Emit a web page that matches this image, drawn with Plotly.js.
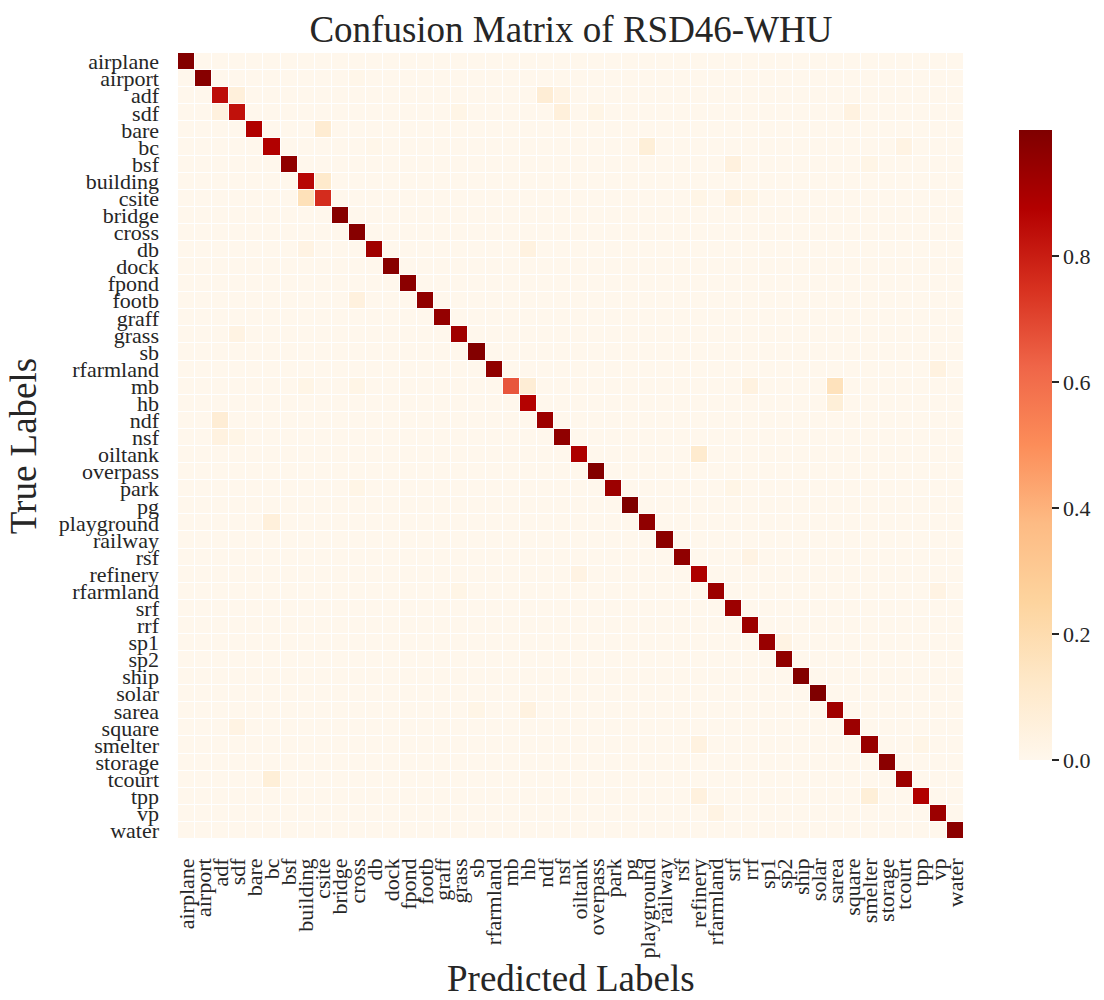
<!DOCTYPE html>
<html>
<head>
<meta charset="utf-8">
<script src="https://cdn.plot.ly/plotly-3.0.1.min.js"></script>
<style>html,body{margin:0;padding:0;background:#fff;}#chart{width:1104px;height:1000px;}</style>
</head>
<body>
<div id="chart"></div>
<script>
// Class labels (same order for true and predicted)
const labels = ['airplane','airport','adf','sdf','bare','bc','bsf','building','csite','bridge','cross','db','dock','fpond','footb','graff','grass','sb','rfarmland','mb','hb','ndf','nsf','oiltank','overpass','park','pg','playground','railway','rsf','refinery','rfarmland','srf','rrf','sp1','sp2','ship','solar','sarea','square','smelter','storage','tcourt','tpp','vp','water'];

// Diagonal (per-class recall)
const diagonal = [0.99,0.98,0.84,0.83,0.88,0.88,0.96,0.86,0.76,0.98,0.98,0.92,0.98,0.97,0.96,0.95,0.92,0.99,0.96,0.66,0.87,0.93,0.96,0.89,0.99,0.93,1.0,0.96,0.97,0.96,0.89,0.93,0.93,0.93,0.94,0.96,0.99,1.0,0.92,0.93,0.94,0.97,0.93,0.88,0.93,0.97];

// Visible off-diagonal confusions: [trueIndex, predictedIndex, value]
const offDiagonal = [
  [1,10,0.01],
  [2,3,0.06],[2,21,0.08],[2,22,0.03],
  [3,2,0.05],[3,16,0.02],[3,22,0.06],[3,24,0.02],[3,39,0.04],
  [4,8,0.09],
  [5,11,0.01],[5,27,0.07],[5,42,0.03],
  [6,32,0.05],[6,40,0.02],
  [7,8,0.11],
  [8,7,0.17],[8,30,0.02],[8,32,0.04],[8,33,0.02],
  [11,7,0.03],[11,20,0.04],
  [14,10,0.05],
  [16,3,0.03],
  [18,44,0.04],
  [19,7,0.02],[19,10,0.02],[19,20,0.08],[19,33,0.04],[19,38,0.16],
  [20,38,0.07],
  [21,2,0.08],
  [22,2,0.04],[22,3,0.02],
  [23,30,0.10],
  [25,10,0.02],[25,32,0.02],
  [27,5,0.06],
  [29,33,0.03],
  [30,23,0.03],
  [31,16,0.02],[31,44,0.03],
  [34,35,0.03],
  [38,17,0.02],[38,20,0.04],
  [39,3,0.03],
  [40,30,0.04],[40,43,0.02],
  [42,5,0.07],
  [43,30,0.05],[43,40,0.07],
  [44,31,0.03]
];

const n = labels.length;
const idx = labels.map((_, i) => i);
const z = idx.map(r => idx.map(c => (r === c ? diagonal[r] : 0)));
offDiagonal.forEach(([r, c, v]) => { z[r][c] = v; });

const orrd = [[0,'#fff7ec'],[0.125,'#fee8c8'],[0.25,'#fdd49e'],[0.375,'#fdbb84'],[0.5,'#fc8d59'],[0.625,'#ef6548'],[0.75,'#d7301f'],[0.875,'#b30000'],[1,'#7f0000']];

const font = 'Liberation Serif, Times New Roman, serif';
const txt = '#262626';

const trace = {
  type: 'heatmap',
  x: idx, y: idx, z: z,
  colorscale: orrd, zmin: 0, zmax: 1.0,
  xgap: 1, ygap: 1,
  colorbar: {
    xref: 'container', x: 1019 / 1104, xanchor: 'left', xpad: 0,
    yref: 'paper', y: 1 - (445 - 53) / 786, yanchor: 'middle', ypad: 0,
    len: 630, lenmode: 'pixels',
    thickness: 33, outlinewidth: 0,
    tickmode: 'array', tickvals: [0,0.2,0.4,0.6,0.8], ticktext: ['0.0','0.2','0.4','0.6','0.8'],
    ticks: 'outside', ticklen: 7, tickwidth: 1.8, tickcolor: txt,
    tickfont: {family: font, size: 22, color: txt}
  },
  hovertemplate: 'True: %{y}<br>Pred: %{x}<br>%{z}<extra></extra>'
};

const layout = {
  width: 1104, height: 1000,
  margin: {l: 178, r: 140, t: 53, b: 161},
  paper_bgcolor: '#fff', plot_bgcolor: '#fff',
  font: {family: font, color: txt},
  title: {text: 'Confusion Matrix of RSD46-WHU', font: {family: font, size: 37, color: txt}, x: 0.5, xref: 'paper', xanchor: 'center', y: 0.971, yref: 'container', yanchor: 'middle'},
  xaxis: {
    tickmode: 'array', tickvals: idx, ticktext: labels, tickangle: -90,
    tickfont: {family: font, size: 22, color: txt},
    ticks: '', ticklabelstandoff: 14, showgrid: false, zeroline: false, showline: false,
    range: [-0.5, n - 0.5],
    automargin: false
  },
  yaxis: {
    tickmode: 'array', tickvals: idx, ticktext: labels,
    tickfont: {family: font, size: 22, color: txt},
    ticks: '', ticklabelstandoff: 18, showgrid: false, zeroline: false, showline: false,
    range: [n - 0.5, -0.5],
    automargin: false,
    title: {text: 'True Labels', font: {family: font, size: 37, color: txt}, standoff: 10}
  },
  annotations: [{
    text: 'Predicted Labels', showarrow: false, borderpad: 0,
    xref: 'paper', x: 0.5, xanchor: 'center',
    yref: 'paper', y: -(979 - 839) / 786, yanchor: 'middle',
    font: {family: font, size: 37, color: txt}
  }]
};

Plotly.newPlot('chart', [trace], layout, {displayModeBar: false, responsive: false});
</script>
</body>
</html>
